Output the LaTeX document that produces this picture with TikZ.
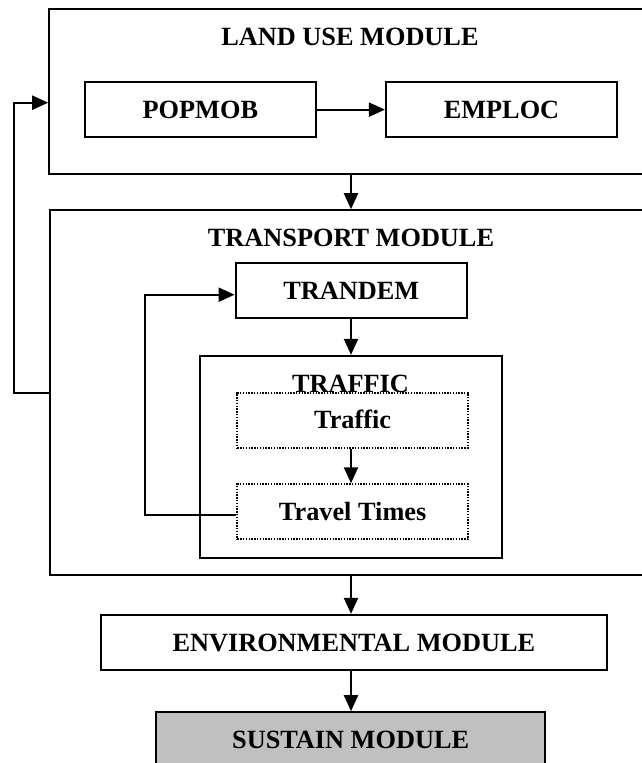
\documentclass[tikz,border=0pt]{standalone}
\usepackage{fontspec}
\setmainfont{Liberation Serif}
\usetikzlibrary{arrows.meta}

\tikzset{
  boxfont/.style={font=\fontsize{26.3}{30}\selectfont\bfseries},
  modbox/.style={draw, line width=2.2pt, rectangle, inner sep=0pt, boxfont,
    text height=17.4pt, text depth=0pt},
  subbox/.style={draw, line width=2.2pt, rectangle, inner sep=0pt, boxfont,
    text height=17.4pt, text depth=0pt},
  dotbox/.style={draw, line width=2pt, dash pattern=on 1.4pt off 1.4pt, rectangle, inner sep=0pt,
    boxfont, text height=17.4pt, text depth=0pt},
  title/.style={inner sep=0pt, anchor=base, boxfont},
  arr/.style={line width=2.2pt, -{Triangle[length=16pt, width=14pt]}},
}

\begin{document}
\begin{tikzpicture}[x=1pt, y=-1pt]
  \clip (0,0) rectangle (642,763);
  \fill[white] (0,0) rectangle (642,763);

  % land use module
  \node[modbox, minimum width=650.7pt, minimum height=164.4pt] (landuse) at (374.65,91.5) {};
  \node[title] (landuseT) at (350,45.7) {LAND USE MODULE};
  \node[subbox, minimum width=230.7pt, minimum height=54.7pt] (popmob) at (200.35,109.65) {POPMOB};
  \node[subbox, minimum width=231pt, minimum height=54.7pt] (emploc) at (501.5,109.65) {EMPLOC};

  % transport module
  \node[modbox, minimum width=650.3pt, minimum height=364.7pt] (transport) at (374.85,392.65) {};
  \node[title] (transportT) at (351,246.7) {TRANSPORT MODULE};
  \node[subbox, minimum width=231pt, minimum height=55pt] (trandem) at (351.2,290.8) {TRANDEM};
  \node[subbox, minimum width=302pt, minimum height=201.7pt] (trafficbox) at (351,456.85) {};
  \node[dotbox, minimum width=230.7pt, minimum height=55pt] (traffic) at (352.65,420.2) {Traffic};
  \node[dotbox, minimum width=230.7pt, minimum height=55pt] (travel) at (352.65,511.8) {Travel Times};
  \node[title] (trafficT) at (350.5,392.7) {TRAFFIC};

  % environmental and sustain modules
  \node[subbox, minimum width=505.7pt, minimum height=55pt] (env) at (353.85,642.5) {ENVIRONMENTAL MODULE};
  \node[subbox, fill={rgb,255:red,192;green,192;blue,192}, minimum width=389.3pt, minimum height=55pt] (sustain) at (350.65,739.8) {SUSTAIN MODULE};

  % connectors
  \coordinate (axis) at (351,0);
  \coordinate (outerLow) at (14,392.7);
  \coordinate (outerHigh) at (14,102.7);
  \coordinate (innerLow) at (145.3,514.7);
  \coordinate (innerHigh) at (145.3,294.7);

  \draw[arr] (popmob.east) -- (emploc.west);
  \draw[arr] (landuse.south -| axis) -- (transport.north -| axis);
  \draw[arr] (trandem.south -| axis) -- (trafficbox.north -| axis);
  \draw[arr] (traffic.south -| axis) -- (travel.north -| axis);
  \draw[arr] (transport.south -| axis) -- (env.north -| axis);
  \draw[arr] (env.south -| axis) -- (sustain.north -| axis);

  \draw[arr] (transport.west |- outerLow) -- (outerLow) -- (outerHigh) -- (landuse.west |- outerHigh);
  \draw[arr] (travel.west |- innerLow) -- (innerLow) -- (innerHigh) -- (trandem.west |- innerHigh);
\end{tikzpicture}
\end{document}
